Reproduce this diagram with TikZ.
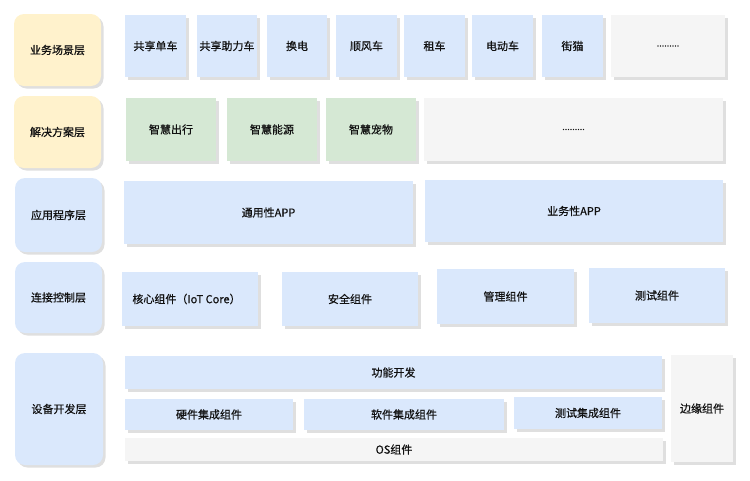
\documentclass[tikz,border=0pt]{standalone}
\usepackage{fontspec}
\setmainfont{Noto Sans CJK SC}[FakeBold=0.6]
\usetikzlibrary{shadows}
\definecolor{bluef}{HTML}{DAE8FC}
\definecolor{greenf}{HTML}{D5E8D4}
\definecolor{yellowf}{HTML}{FFF2CC}
\definecolor{grayf}{HTML}{F5F5F5}
\definecolor{txt}{HTML}{111111}
\tikzset{
  base/.style={rectangle, inner sep=0pt, draw=none, text=txt,
    font=\fontsize{11}{13}\selectfont,
    drop shadow={shadow xshift=2.5pt, shadow yshift=-2.5pt, fill=black!25}},
  bluebox/.style={base, fill=bluef},
  greenbox/.style={base, fill=greenf},
  graybox/.style={base, fill=grayf},
  layery/.style={base, fill=yellowf, rounded corners=10pt},
  layerb/.style={base, fill=bluef, rounded corners=10pt}
}
\newcommand\blk[7]{\node[#1, minimum width={#5-#3}, minimum height={#6-#4}] (#2) at ({(#3+#5)/2},{(#4+#6)/2}) {#7};}
\newcommand\dotstxt{{\fontsize{9}{10}\selectfont .........}}
\begin{document}
\begin{tikzpicture}[x=1pt,y=-1pt]
\useasboundingbox (0,0) rectangle (750,480);
% layer labels
\blk{layery}{l1}{14}{14}{101}{86}{业务场景层}
\blk{layery}{l2}{14}{96}{101}{168}{解决方案层}
\blk{layerb}{l3}{15}{178}{102}{252}{应用程序层}
\blk{layerb}{l4}{15}{262}{102}{333}{连接控制层}
\blk{layerb}{l5}{15}{353}{103}{465}{设备开发层}
% row 1
\blk{bluebox}{a1}{125}{15}{186}{77}{共享单车}
\blk{bluebox}{a2}{197}{15}{257}{77}{共享助力车}
\blk{bluebox}{a3}{267}{15}{327}{77}{换电}
\blk{bluebox}{a4}{336}{15}{397}{77}{顺风车}
\blk{bluebox}{a5}{404}{15}{465}{77}{租车}
\blk{bluebox}{a6}{472}{15}{533}{77}{电动车}
\blk{bluebox}{a7}{542}{15}{603}{77}{街猫}
\blk{graybox}{a8}{611}{15}{725}{77}{\dotstxt}
% row 2
\blk{greenbox}{b1}{126}{98}{216}{161}{智慧出行}
\blk{greenbox}{b2}{227}{98}{317}{161}{智慧能源}
\blk{greenbox}{b3}{326}{98}{416}{161}{智慧宠物}
\blk{graybox}{b4}{424}{98}{723}{161}{\dotstxt}
% row 3
\blk{bluebox}{c1}{124}{181}{413}{244}{通用性APP}
\blk{bluebox}{c2}{425}{180}{723}{242}{业务性APP}
% row 4
\blk{bluebox}{d1}{122}{272}{258}{326}{\hspace*{-7pt}核心组件（IoT Core）}
\blk{bluebox}{d2}{282}{272}{418}{326}{安全组件}
\blk{bluebox}{d3}{437}{269}{574}{324}{管理组件}
\blk{bluebox}{d4}{589}{268}{725}{323}{测试组件}
% row 5
\blk{bluebox}{e1}{125}{356}{662}{389}{功能开发}
\blk{bluebox}{e2}{125}{399}{293}{430}{硬件集成组件}
\blk{bluebox}{e3}{304}{399}{504}{430}{软件集成组件}
\blk{bluebox}{e4}{514}{397}{662}{429}{测试集成组件}
\blk{graybox}{e5}{125}{438}{663}{461}{OS组件}
\blk{graybox}{e6}{671}{355}{733}{462}{边缘组件}
\end{tikzpicture}
\end{document}
